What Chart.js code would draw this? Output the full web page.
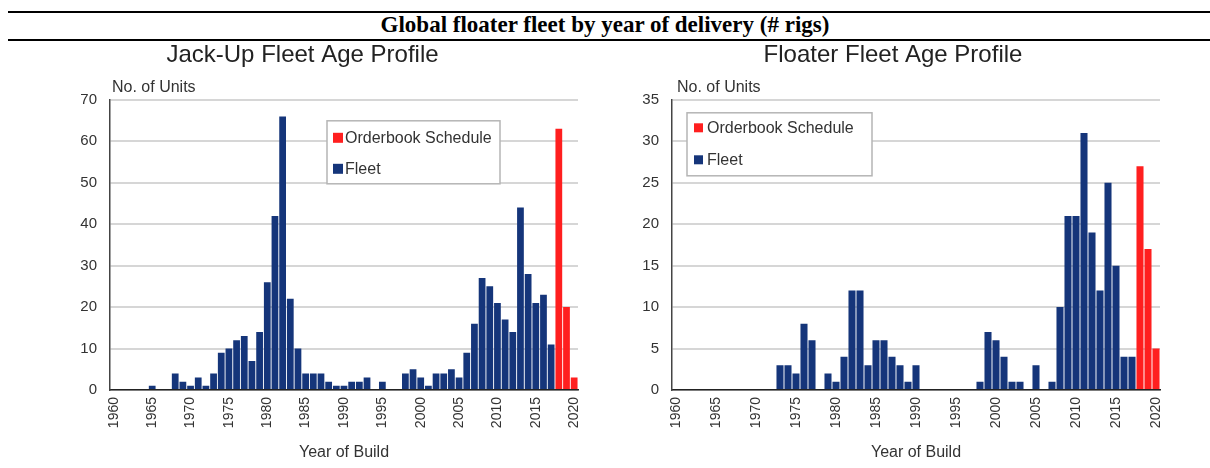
<!DOCTYPE html>
<html>
<head>
<meta charset="utf-8">
<script src="https://cdn.jsdelivr.net/npm/chart.js@4.4.1/dist/chart.umd.min.js"></script>
<style>
  body { margin: 0; background: #fff; width: 1210px; height: 468px; overflow: hidden; position: relative; }
  .rule { position: absolute; left: 8px; right: 0; height: 2px; background: #000; }
  #mainTitle { position: absolute; left: 0; width: 1210px; top: 12px; text-align: center;
    font: bold 23px "Liberation Serif", "Times New Roman", serif; color: #000; }
  .box { position: absolute; top: 40px; height: 428px; }
</style>
</head>
<body>
<div class="rule" style="top:11px"></div>
<div id="mainTitle">Global floater fleet by year of delivery (# rigs)</div>
<div class="rule" style="top:39px"></div>
<div class="box" style="left:27px;width:578px"><canvas id="jackupChart"></canvas></div>
<div class="box" style="left:626px;width:584px"><canvas id="floaterChart"></canvas></div>
<script>
// year of build, 1960 - 2020
const years = [
  '1960','1961','1962','1963','1964','1965','1966','1967','1968','1969',
  '1970','1971','1972','1973','1974','1975','1976','1977','1978','1979',
  '1980','1981','1982','1983','1984','1985','1986','1987','1988','1989',
  '1990','1991','1992','1993','1994','1995','1996','1997','1998','1999',
  '2000','2001','2002','2003','2004','2005','2006','2007','2008','2009',
  '2010','2011','2012','2013','2014','2015','2016','2017','2018','2019','2020'
];
const shownYears = ['1960','1965','1970','1975','1980','1985','1990','1995','2000','2005','2010','2015','2020'];

const jackupFleet = [
  0, 0, 0, 0, 0, 1, 0, 0, 4, 2,
  1, 3, 1, 4, 9, 10, 12, 13, 7, 14,
  26, 42, 66, 22, 10, 4, 4, 4, 2, 1,
  1, 2, 2, 3, 0, 2, 0, 0, 4, 5,
  3, 1, 4, 4, 5, 3, 9, 16, 27, 25,
  21, 17, 14, 44, 28, 21, 23, 11, null, null, null
];
const jackupOrderbook = [
  null, null, null, null, null, null, null, null, null, null,
  null, null, null, null, null, null, null, null, null, null,
  null, null, null, null, null, null, null, null, null, null,
  null, null, null, null, null, null, null, null, null, null,
  null, null, null, null, null, null, null, null, null, null,
  null, null, null, null, null, null, null, null, 63, 20, 3
];

const floaterFleet = [
  0, 0, 0, 0, 0, 0, 0, 0, 0, 0,
  0, 0, 0, 3, 3, 2, 8, 6, 0, 2,
  1, 4, 12, 12, 3, 6, 6, 4, 3, 1,
  3, 0, 0, 0, 0, 0, 0, 0, 1, 7,
  6, 4, 1, 1, 0, 3, 0, 1, 10, 21,
  21, 31, 19, 12, 25, 15, 4, 4, null, null, null
];
const floaterOrderbook = [
  null, null, null, null, null, null, null, null, null, null,
  null, null, null, null, null, null, null, null, null, null,
  null, null, null, null, null, null, null, null, null, null,
  null, null, null, null, null, null, null, null, null, null,
  null, null, null, null, null, null, null, null, null, null,
  null, null, null, null, null, null, null, null, 27, 17, 5
];

const NAVY = '#15357a';
const RED = '#ff1f1f';
const FONT = '"Liberation Sans", Arial, sans-serif';

// legend box drawn inside the plot area
const boxLegend = {
  id: 'boxLegend',
  afterDatasetsDraw(chart, args, opts) {
    const ctx = chart.ctx, area = chart.chartArea;
    const x = area.left + opts.x, y = area.top + opts.y;
    ctx.save();
    ctx.fillStyle = '#fff';
    ctx.fillRect(x, y, opts.width, opts.height);
    ctx.strokeStyle = '#b5b5b5';
    ctx.lineWidth = 1.5;
    ctx.strokeRect(x, y, opts.width, opts.height);
    ctx.font = '16px ' + FONT;
    ctx.textBaseline = 'middle';
    chart.data.datasets.forEach((ds, i) => {
      const ry = y + opts.rowY[i];
      ctx.fillStyle = ds.backgroundColor;
      ctx.fillRect(x + opts.sq, ry - opts.size / 2, opts.size, opts.size);
      ctx.fillStyle = '#333';
      ctx.fillText(ds.label, x + opts.textX, ry + 1);
    });
    ctx.restore();
  }
};

// "No. of Units" above the value axis
const unitsLabel = {
  id: 'unitsLabel',
  afterDraw(chart, args, opts) {
    const ctx = chart.ctx, area = chart.chartArea;
    ctx.save();
    ctx.font = '16px ' + FONT;
    ctx.fillStyle = '#333';
    ctx.textBaseline = 'middle';
    ctx.fillText(opts.text, area.left + opts.dx, area.top - 12);
    ctx.restore();
  }
};

function createAgeChart(id, title, fleet, orderbook, yMax, yStep, yWidth, padRight, legendPos, unitsDx) {
  const ctx = document.getElementById(id).getContext('2d');
  return new Chart(ctx, {
    type: 'bar',
    data: {
      labels: years,
      datasets: [
        { label: 'Orderbook Schedule', data: orderbook, backgroundColor: RED, borderWidth: 0 },
        { label: 'Fleet', data: fleet, backgroundColor: NAVY, borderWidth: 0 }
      ]
    },
    plugins: [boxLegend, unitsLabel],
    options: {
      responsive: true,
      maintainAspectRatio: false,
      animation: false,
      layout: { padding: { left: 0, right: padRight, top: 0, bottom: 0 } },
      datasets: { bar: { barPercentage: 0.88, categoryPercentage: 1.0 } },
      plugins: {
        legend: { display: false },
        tooltip: { enabled: false },
        title: {
          display: true,
          text: title,
          color: '#222',
          font: { family: FONT, size: 24, weight: 'normal' },
          padding: { top: 1, bottom: 30 }
        },
        boxLegend: legendPos,
        unitsLabel: { text: 'No. of Units', dx: unitsDx }
      },
      scales: {
        x: {
          stacked: true,
          grid: { display: false, drawTicks: false },
          border: { display: true, color: '#222', width: 1.5 },
          ticks: {
            autoSkip: false,
            minRotation: 90,
            maxRotation: 90,
            padding: 7,
            color: '#333',
            font: { family: FONT, size: 14 },
            callback: function(value) {
              const lbl = this.getLabelForValue(value);
              return shownYears.includes(lbl) ? lbl : '';
            }
          },
          title: {
            display: true,
            text: 'Year of Build',
            color: '#333',
            font: { family: FONT, size: 16 },
            padding: { top: 0, bottom: 6 }
          },
          afterFit: function(scale) { scale.height = 78; }
        },
        y: {
          stacked: true,
          min: 0,
          max: yMax,
          grid: { color: '#d6d6d6', lineWidth: 2, drawTicks: false },
          border: { display: true, color: '#444', width: 1.5 },
          ticks: {
            stepSize: yStep,
            padding: 13,
            color: '#333',
            font: { family: FONT, size: 15 }
          },
          afterFit: function(scale) { scale.width = yWidth; }
        }
      }
    }
  });
}

createAgeChart('jackupChart', 'Jack-Up Fleet Age Profile', jackupFleet, jackupOrderbook,
  70, 10, 83, 27,
  { x: 217, y: 21, width: 173, height: 63, rowY: [17, 48], sq: 6, size: 10, textX: 18 }, 2);

createAgeChart('floaterChart', 'Floater Fleet Age Profile', floaterFleet, floaterOrderbook,
  35, 5, 46, 50,
  { x: 15, y: 13, width: 185, height: 63, rowY: [15, 47], sq: 7, size: 9, textX: 20 }, 5);
</script>
</body>
</html>
